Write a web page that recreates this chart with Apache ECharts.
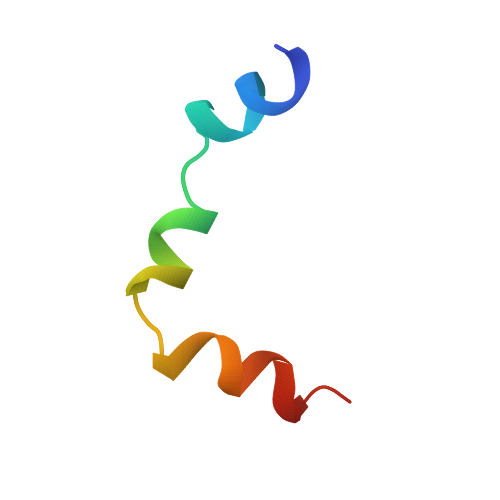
<!DOCTYPE html>
<html><head><meta charset="utf-8">
<style>html,body{margin:0;padding:0;background:#fff}#c{width:500px;height:500px;filter:blur(0.35px)}</style>
<script src="https://cdn.jsdelivr.net/npm/echarts@6/dist/echarts.min.js"></script>
</head><body><div id="c"></div>
<script>
// Each ribbon: two edges (A, B) with a colour at every station. Each tube: a centre line with colours.
const tealBackA=[[250,90],[250,100],[247,110],[243,132]];
const tealBackB=[[262,90],[265,102],[265,113],[255,130]];
const tealBackCA=['#1b7f96','#1f94b4','#2cb4dc','#2cc0d8'];
const tealBackCB=['#1a6f80','#1f8aa8','#2a9cc4','#2ab8d8'];

const startTubePts=[[276,46],[283,50],[292,55]];
const startTubeCol=['#4450d8','#3a46c8','#3040b0'];

const blueTopA=[[235,85],[237,80],[246,74],[254,72]];
const blueTopB=[[250,106],[258,102],[262,94],[257,75]];
const blueTopCA=['#2a8ae4','#2c90ea','#2a8ae0','#2a80d4'];
const blueTopCB=['#2a88e0','#2a8ae4','#2a84d8','#2a7cc8'];

const darkWedgeA=[[254,72],[257,84],[260,96]];
const darkWedgeB=[[257,72],[264,85],[265,96]];
const darkWedgeCA=['#1f6c94','#1f6c84','#1f7488'];
const darkWedgeCB=['#1c5570','#1a5868','#1c6878'];

const blueFrontA=[[298,47],[307,55],[310,72],[307,87],[295,105],[277,115],[260,113],[245,105],[235,85]];
const blueFrontB=[[285,53],[291,62],[295,80],[294,95],[285,102],[270,102],[258,97],[250,90],[245,82]];
const blueFrontCA=['#3848c4','#3448c0','#3c58dc','#3450c0','#2c4caa','#2a5cb0','#2a78cc','#2a88e0','#2a8ae4'];
const blueFrontCB=['#2a3a9c','#2a3aa4','#3650d0','#3c5cdc','#3a68dc','#2c78dc','#2a88e8','#2a90ec','#2a8ee8'];

const greenTubePts=[[205,125],[207,145],[200,155],[187,165],[183,178],[187,195],[193,205],[204,212]];
const greenTubeCol=['#2cc498','#34c88c','#38cc80','#3ccf74','#3ed06c','#42d468','#46d864','#40c860'];

const tealCapA=[[185,110],[188,104],[198,101],[208,101],[213,108]];
const tealCapB=[[200,125],[205,118],[208,112],[210,108],[214,110]];
const tealCapCA=['#28d0b0','#28d0b0','#28d0b0','#229a90','#186f6c'];
const tealCapCB=['#28d2b0','#28d0b0','#26c8aa','#1c8a80','#166a68'];

const tealFrontA=[[185,110],[193,125],[208,137],[223,142],[240,138],[253,132]];
const tealFrontB=[[205,102],[213,113],[227,127],[235,130],[243,132],[246,129]];
const tealFrontCA=['#28d2b0','#22b8a4','#1c9c98','#1a8e94','#1c94a8','#20a4c0'];
const tealFrontCB=['#28d4b0','#24c4a8','#1fae9c','#1c9ca4','#22a8c0','#28b8d8'];

const tealStubA=[[195,125],[206,133]];
const tealStubB=[[197,132],[206,138]];
const tealStubCA=['#2cc498','#20a890'];
const tealStubCB=['#2cc498','#20a890'];

const yellowTubePts=[[135,295],[137,305],[142,315],[150,325],[158,332],[161,342],[162,356]];
const yellowTubeCol=['#a89018','#c8a018','#dca818','#e4a818','#e8ac18','#e8b020','#d89c18'];

const yellowWedgeA=[[150,276],[131,284]];
const yellowWedgeB=[[146,291],[126,296]];
const yellowWedgeCA=['#7a7810','#5c5a0c'];
const yellowWedgeCB=['#8a8814','#a8a018'];

const greenA=[[218,213],[210,211],[187,208],[170,212],[157,222],[150,233],[149,247],[153,260],[162,267]];
const greenB=[[207,234],[197,231],[180,228],[167,230],[160,235],[160,235],[170,248],[183,262],[193,270]];
const greenCA=['#2a9a58','#3ab858','#68ec50','#70f050','#60e048','#48a838','#50a030','#70bc30','#90c828'];
const greenCB=['#1f7a48','#2e9a50','#48c050','#5ad048','#4a9c38','#3a7a28','#68a830','#9cc830','#b0cc28'];

const yellowA=[[193,270],[177,267],[153,266],[140,272],[130,282],[126,290]];
const yellowB=[[183,289],[170,285],[153,278],[143,281],[133,285],[127,296]];
const yellowCA=['#8c8418','#b0a820','#d0c420','#d8c820','#c8c020','#aca818'];
const yellowCB=['#4c4a0c','#787410','#b8a818','#c8bc18','#b4ac18','#a8a418'];

const goldBoxA=[[153,353],[171,357]];
const goldBoxB=[[153,368],[173,380]];
const goldBoxCA=['#dc9c14','#c88c10'];
const goldBoxCB=['#c08a10','#986810'];

const orangeRiseA=[[168,357],[183,342],[198,333],[212,333],[223,338]];
const orangeRiseB=[[173,381],[183,370],[198,352],[212,338],[218,338]];
const orangeRiseCA=['#c88c14','#d08414','#dc7c18','#e88018','#e07010'];
const orangeRiseCB=['#a87410','#a06c10','#805010','#90500c','#c06810'];

const redBackA=[[242,363],[253,353],[265,351],[280,355],[292,365]];
const redBackB=[[240,396],[247,388],[263,370],[273,360],[283,360]];
const redBackCA=['#c84c18','#c84818','#a03414','#c03818','#b83010'];
const redBackCB=['#c04c18','#c84818','#b03c14','#7a2410','#a02c10'];

const orangeFrontA=[[215,335],[220,347],[222,367],[218,383],[222,390],[228,394]];
const orangeFrontB=[[225,336],[237,345],[242,367],[241,383],[240,392],[240,397]];
const orangeFrontCA=['#e07010','#f07c10','#f07810','#c85c0c','#9c4408','#8c3c08'];
const orangeFrontCB=['#e87410','#e46c10','#d85c10','#b84c0c','#a84808','#a04408'];

const redTubePts=[[303,404],[313,392],[323,387],[333,390],[343,397],[350,402]];
const redTubeCol=['#9c2414','#b42c18','#c03018','#b82c18','#b02818','#a82414'];

const redBoxA=[[294,400],[295,423]];
const redBoxB=[[300,395],[308,407]];
const redBoxCA=['#8c2018','#741c14'];
const redBoxCB=['#9c2818','#842018'];

const redFrontA=[[273,360],[276,375],[273,403],[282,418],[295,423]];
const redFrontB=[[292,365],[295,387],[294,400],[300,410],[300,420]];
const redFrontCA=['#a82c10','#b42810','#b02010','#8c1c10','#741c14'];
const redFrontCB=['#c83410','#bc2c10','#a82010','#8c2014','#7c1c14'];

const ribbon=(a,b,ca,cb)=>({kind:'ribbon',a,b,ca,cb});
const tube=(pts,col,w)=>({kind:'tube',pts,col,w});
const parts=[
 ribbon(tealBackA,tealBackB,tealBackCA,tealBackCB),
 tube(startTubePts,startTubeCol,4),
 ribbon(blueTopA,blueTopB,blueTopCA,blueTopCB),
 ribbon(darkWedgeA,darkWedgeB,darkWedgeCA,darkWedgeCB),
 ribbon(blueFrontA,blueFrontB,blueFrontCA,blueFrontCB),
 tube(greenTubePts,greenTubeCol,4.2),
 ribbon(tealStubA,tealStubB,tealStubCA,tealStubCB),
 ribbon(tealCapA,tealCapB,tealCapCA,tealCapCB),
 ribbon(tealFrontA,tealFrontB,tealFrontCA,tealFrontCB),
 tube(yellowTubePts,yellowTubeCol,4.2),
 ribbon(yellowWedgeA,yellowWedgeB,yellowWedgeCA,yellowWedgeCB),
 ribbon(greenA,greenB,greenCA,greenCB),
 ribbon(yellowA,yellowB,yellowCA,yellowCB),
 ribbon(goldBoxA,goldBoxB,goldBoxCA,goldBoxCB),
 ribbon(orangeRiseA,orangeRiseB,orangeRiseCA,orangeRiseCB),
 ribbon(redBackA,redBackB,redBackCA,redBackCB),
 ribbon(orangeFrontA,orangeFrontB,orangeFrontCA,orangeFrontCB),
 tube(redTubePts,redTubeCol,3.2),
 ribbon(redBoxA,redBoxB,redBoxCA,redBoxCB),
 ribbon(redFrontA,redFrontB,redFrontCA,redFrontCB)
];

const SUB=6, ACROSS=6;
const rgb=h=>[1,3,5].map(i=>parseInt(h.substr(i,2),16));
const css=c=>'rgb('+c.map(v=>Math.round(v)).join(',')+')';
const mix=(p,q,t)=>p.map((v,i)=>v+(q[i]-v)*t);
function spline(pts){ // smooth the hand-read stations for drawing
  const out=[];
  for(let i=0;i<pts.length-1;i++){
    const p0=pts[Math.max(i-1,0)],p1=pts[i],p2=pts[i+1],p3=pts[Math.min(i+2,pts.length-1)];
    for(let s=0;s<SUB;s++){
      const t=s/SUB,t2=t*t,t3=t2*t;
      out.push([0,1].map(k=>0.5*(2*p1[k]+(p2[k]-p0[k])*t+(2*p0[k]-5*p1[k]+4*p2[k]-p3[k])*t2+(3*p1[k]-p0[k]-3*p2[k]+p3[k])*t3)));
    }
  }
  out.push(pts[pts.length-1]);
  return out;
}
function ramp(cols){
  const c=cols.map(rgb),out=[];
  for(let i=0;i<c.length-1;i++)for(let s=0;s<SUB;s++)out.push(mix(c[i],c[i+1],s/SUB));
  out.push(c[c.length-1]);
  return out;
}
function drawRibbon(p,api){
  const A=spline(p.a).map(q=>api.coord(q)),B=spline(p.b).map(q=>api.coord(q));
  const CA=ramp(p.ca),CB=ramp(p.cb),kids=[];
  for(let i=0;i<A.length-1;i++){
    for(let j=0;j<ACROSS;j++){
      const u=j/ACROSS,v=(j+1)/ACROSS;
      const lerp=(P,Q,t)=>[P[0]+(Q[0]-P[0])*t,P[1]+(Q[1]-P[1])*t];
      const col=css(mix(mix(CA[i],CB[i],(u+v)/2),mix(CA[i+1],CB[i+1],(u+v)/2),0.5));
      kids.push({type:'polygon',silent:true,
        shape:{points:[lerp(A[i],B[i],u),lerp(A[i],B[i],v),lerp(A[i+1],B[i+1],v),lerp(A[i+1],B[i+1],u)]},
        style:{fill:col,stroke:col,lineWidth:0.7}});
    }
  }
  return kids;
}
function drawTube(p,api){
  const P=spline(p.pts).map(q=>api.coord(q)),C=ramp(p.col),kids=[];
  const pass=(w,shade)=>{
    for(let i=0;i<P.length-1;i++){
      const col=css(mix(C[i],shade>0?[255,255,255]:[0,0,0],Math.abs(shade)));
      kids.push({type:'line',silent:true,shape:{x1:P[i][0],y1:P[i][1],x2:P[i+1][0],y2:P[i+1][1]},
        style:{stroke:col,lineWidth:w,lineCap:'round'}});
    }
  };
  pass(p.w,-0.04);
  pass(p.w*0.55,0.03);
  return kids;
}
const chart=echarts.init(document.getElementById('c'),null,{renderer:'canvas',width:500,height:500});
chart.setOption({
  animation:false,
  backgroundColor:'#ffffff',
  grid:{left:0,right:0,top:0,bottom:0},
  xAxis:{type:'value',min:0,max:500,show:false},
  yAxis:{type:'value',min:0,max:500,inverse:true,show:false},
  series:[{
    type:'custom',coordinateSystem:'cartesian2d',clip:false,silent:true,
    data:parts.map((p,i)=>[i]),
    encode:{x:[],y:[]},
    renderItem(params,api){
      const p=parts[params.dataIndex];
      return {type:'group',children:p.kind==='ribbon'?drawRibbon(p,api):drawTube(p,api)};
    }
  }]
});
</script></body></html>
